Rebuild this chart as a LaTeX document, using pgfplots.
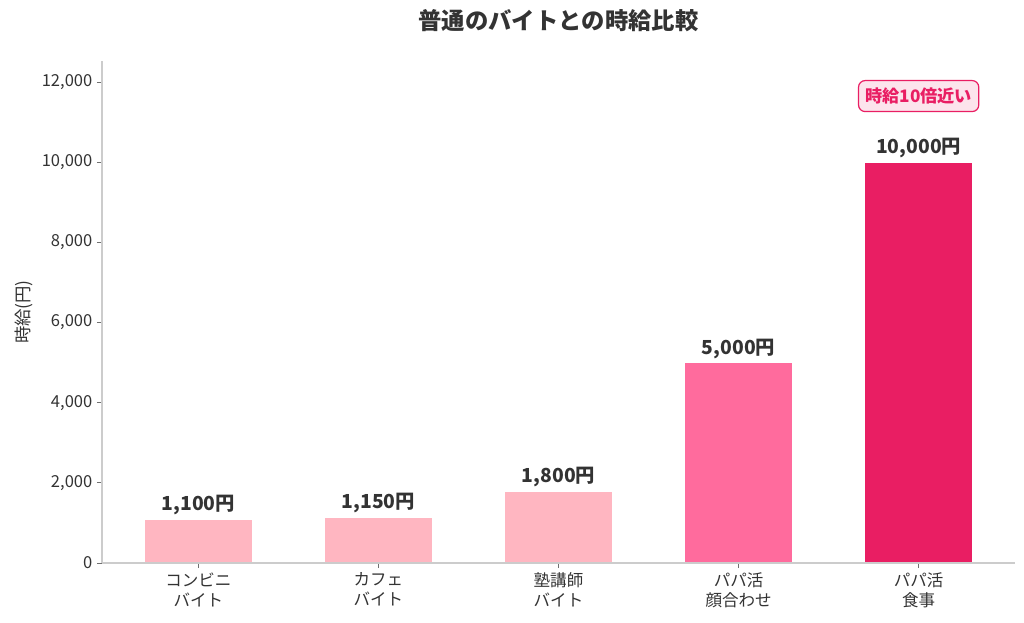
\documentclass[border=0pt]{standalone}
\usepackage{fontspec}
\setmainfont{Noto Sans CJK JP}
\usepackage{pgfplots}
\pgfplotsset{compat=1.18}
\definecolor{lightpink}{HTML}{FFB6C1}
\definecolor{midpink}{HTML}{FF6B9D}
\definecolor{deeppink}{HTML}{E91E63}
\definecolor{boxfill}{HTML}{FCE4EC}
\definecolor{spine}{HTML}{CCCCCC}
\definecolor{txt}{HTML}{333333}
\begin{document}
\begin{tikzpicture}
\begin{axis}[
    at={(0,0)}, anchor=south west,
    width=684.75pt, height=376.5pt,
    scale only axis,
    xmin=-0.535, xmax=4.535,
    ymin=0, ymax=12525,
    axis x line*=bottom,
    axis y line*=left,
    axis line style={spine, line width=1.1pt},
    axis on top,
    tick align=outside,
    major tick length=3.75pt,
    tick style={txt!70, line width=0.7pt},
    xtick={0,1,2,3,4},
    xticklabels={{コンビニ\\バイト},{カフェ\\バイト},{塾講師\\バイト},{パパ活\\顔合わせ},{パパ活\\食事}},
    xticklabel style={align=center, font=\fontsize{12.4}{15}\selectfont, text=txt},
    ytick={0,2000,...,12000},
    yticklabel style={font=\fontsize{12.4}{15}\selectfont, text=txt},
    /pgf/number format/.cd, assume math mode=true, 1000 sep={,}, fixed, precision=0,
    /pgfplots/.cd,
    scaled y ticks=false,
    ylabel={時給(円)},
    ylabel style={font=\fontsize{13}{15}\selectfont, text=txt},
    ybar, bar width=0.6, bar shift=0pt,
    every axis plot/.append style={draw=white, line width=1.2pt},
    nodes near coords={\pgfmathprintnumber{\pgfplotspointmeta}円},
    every node near coord/.append style={font=\bfseries\fontsize{14.5}{16}\selectfont, text=txt, anchor=south, inner sep=0pt, yshift=2.3pt},
    clip=false,
]
\addplot[fill=lightpink, bar shift=0pt] coordinates {(0,1100) (1,1150) (2,1800)};
\addplot[fill=midpink, bar shift=0pt] coordinates {(3,5000)};
\addplot[fill=deeppink, bar shift=0pt] coordinates {(4,10000)};
\node[font=\bfseries\fontsize{17.5}{20}\selectfont, text=txt] at (rel axis cs:0.5,1) [yshift=30pt] {普通のバイトとの時給比較};
\node[font=\bfseries\fontsize{12.9}{15}\selectfont, text=deeppink, fill=boxfill, draw=deeppink, line width=0.9pt, rounded corners=5pt, inner xsep=5pt, inner ysep=5.5pt] at (axis cs:4,11650) {時給10倍近い};
\end{axis}
\pgfresetboundingbox
\path (-76.5pt,-44.25pt) rectangle (691.5pt,422.25pt);
\end{tikzpicture}
\end{document}
